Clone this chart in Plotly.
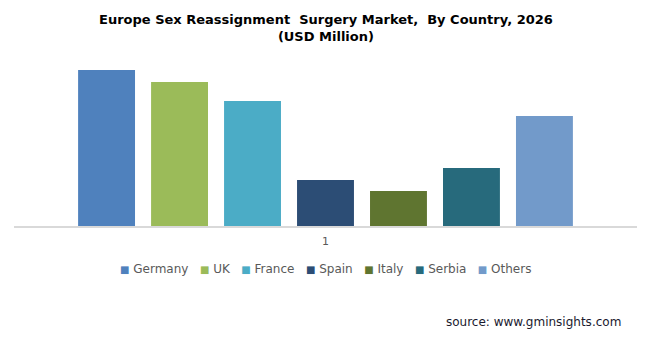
import plotly.graph_objects as go

# Market size by country, 2026 (USD Million)
countries = ["Germany", "UK", "France", "Spain", "Italy", "Serbia", "Others"]
values = [156, 144, 125, 46, 35, 58, 110]
colors = ["#4F81BD", "#9BBB59", "#4BACC6", "#2C4D75", "#5F7530", "#276A7C", "#729ACA"]
category = ["1"]

title_text = "Europe Sex Reassignment  Surgery Market,  By Country, 2026<br>(USD Million)"

fig = go.Figure()
for name, val, col in zip(countries, values, colors):
    fig.add_trace(go.Bar(
        x=category, y=[val], name=name,
        marker=dict(color=col, line=dict(width=0)),
        showlegend=False,
        hovertemplate=name + ": %{y}<extra></extra>",
    ))

# Compact legend row built as rich text
legend_text = "   ".join(
    f'<span style="color:{c};font-size:10px">■</span> {n}' for n, c in zip(countries, colors)
)

fig.update_layout(
    width=651, height=342,
    margin=dict(l=14, r=14, t=60, b=116),
    paper_bgcolor="white", plot_bgcolor="white",
    barmode="group", bargap=0.18, bargroupgap=0.22,
    xaxis=dict(
        type="category", showline=True, linecolor="#D9D9D9", linewidth=2,
        ticks="", showgrid=False, zeroline=False, ticklabelstandoff=4,
        tickfont=dict(family="DejaVu Sans", size=11, color="#595959"),
    ),
    yaxis=dict(
        range=[0, 166], visible=False, showgrid=False, zeroline=False,
    ),
    annotations=[
        dict(
            text=title_text, x=0.5, xref="paper", xanchor="center",
            y=(226 - 10) / 166, yref="paper", yanchor="top",
            showarrow=False,
            font=dict(family="DejaVu Sans", size=13, color="#000000", weight="bold"),
        ),
        dict(
            text=legend_text, x=0.5, xref="paper", xanchor="center",
            y=(226 - 269) / 166, yref="paper", yanchor="middle",
            showarrow=False,
            font=dict(family="DejaVu Sans", size=12, color="#595959"),
        ),
        dict(
            text="source: www.gminsights.com", x=(623 - 14) / 623, xref="paper",
            xanchor="right", y=(226 - 322) / 166, yref="paper", yanchor="middle",
            showarrow=False,
            font=dict(family="DejaVu Sans", size=12, color="#1a1a2e"),
        ),
    ],
)

fig.write_html("out.html")
